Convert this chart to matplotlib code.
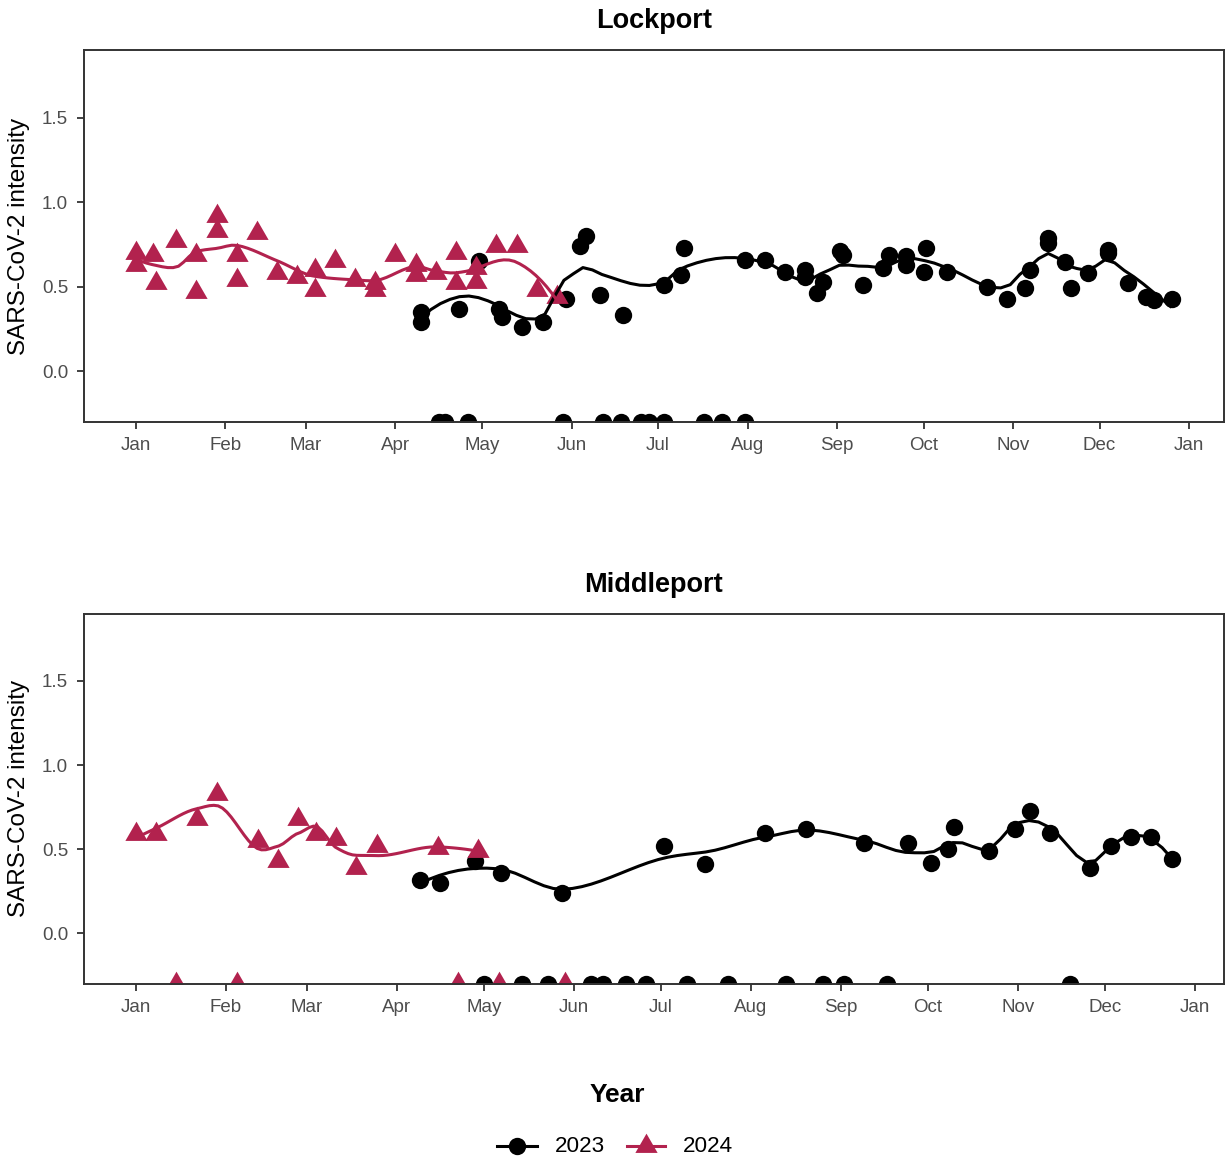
import numpy as np
import datetime as dt
import matplotlib
matplotlib.use("Agg")
import matplotlib.pyplot as plt
from matplotlib.lines import Line2D
from matplotlib.transforms import blended_transform_factory

plt.rcParams['font.family'] = ['Liberation Sans', 'DejaVu Sans']

# ---------------- data ----------------
# values are SARS-CoV-2 intensity; None = non-detect (drawn at the panel floor)
month_ticks = ["01-01", "02-01", "03-01", "04-01", "05-01", "06-01", "07-01",
               "08-01", "09-01", "10-01", "11-01", "12-01", "NEXT-01-01"]
month_labels = ["Jan", "Feb", "Mar", "Apr", "May", "Jun", "Jul", "Aug", "Sep",
                "Oct", "Nov", "Dec", "Jan"]
y_ticks = [0.0, 0.5, 1.0, 1.5]
y_tick_labels = ["0.0", "0.5", "1.0", "1.5"]
y_limits = (-0.2, 1.8)

years = ["2023", "2024"]
year_colors = {"2023": "#000000", "2024": "#B2224E"}

lockport_2023_dates = [
    "04-10", "04-10", "04-16", "04-18", "04-23", "04-26", "04-30", "05-07", "05-08",
    "05-15", "05-22", "05-29", "05-30", "06-04", "06-06", "06-11", "06-12", "06-18",
    "06-19", "06-25", "06-28", "07-03", "07-03", "07-09", "07-10", "07-17", "07-23",
    "07-31", "07-31", "08-07", "08-14", "08-21", "08-21", "08-25", "08-27", "09-02",
    "09-03", "09-10", "09-17", "09-19", "09-25", "09-25", "10-01", "10-02", "10-09",
    "10-23", "10-30", "11-05", "11-07", "11-13", "11-13", "11-19", "11-21", "11-27",
    "12-04", "12-04", "12-11", "12-17", "12-20", "12-26"]
lockport_2023_values = [
    0.35, 0.29, None, None, 0.37, None, 0.65, 0.37, 0.32,
    0.26, 0.29, None, 0.43, 0.74, 0.80, 0.45, None, None,
    0.33, None, None, None, 0.51, 0.57, 0.73, None, None,
    None, 0.66, 0.66, 0.585, 0.60, 0.56, 0.46, 0.53, 0.71,
    0.69, 0.51, 0.61, 0.69, 0.68, 0.63, 0.59, 0.73, 0.59,
    0.50, 0.43, 0.49, 0.60, 0.79, 0.76, 0.645, 0.49, 0.58,
    0.72, 0.70, 0.52, 0.44, 0.42, 0.43]

lockport_2024_dates = [
    "01-01", "01-01", "01-07", "01-08", "01-15", "01-22", "01-22", "01-29", "01-29",
    "02-05", "02-05", "02-12", "02-19", "02-26", "03-04", "03-04", "03-11", "03-18",
    "03-25", "03-25", "04-01", "04-08", "04-08", "04-15", "04-22", "04-22", "04-29",
    "04-29", "05-06", "05-13", "05-20", "05-27"]
lockport_2024_values = [
    0.70, 0.63, 0.69, 0.52, 0.77, 0.69, 0.47, 0.92, 0.83,
    0.69, 0.54, 0.82, 0.58, 0.56, 0.60, 0.48, 0.65, 0.54,
    0.52, 0.48, 0.69, 0.63, 0.57, 0.58, 0.70, 0.52, 0.61,
    0.53, 0.74, 0.74, 0.48, 0.44]

middleport_2023_dates = [
    "04-09", "04-16", "04-28", "05-01", "05-07", "05-14", "05-23", "05-28", "06-07",
    "06-11", "06-19", "06-26", "07-02", "07-10", "07-16", "07-24", "08-06", "08-13",
    "08-20", "08-26", "09-02", "09-09", "09-17", "09-24", "10-02", "10-08", "10-10",
    "10-22", "10-31", "11-05", "11-12", "11-19", "11-26", "12-03", "12-10", "12-17",
    "12-24"]
middleport_2023_values = [
    0.32, 0.30, 0.43, None, 0.36, None, None, 0.24, None,
    None, None, None, 0.52, None, 0.41, None, 0.595, None,
    0.62, None, None, 0.54, None, 0.54, 0.42, 0.50, 0.63,
    0.49, 0.62, 0.73, 0.595, None, 0.39, 0.52, 0.575, 0.575,
    0.44]

middleport_2024_dates = [
    "01-01", "01-08", "01-15", "01-22", "01-29", "02-05", "02-12", "02-19", "02-26",
    "03-04", "03-11", "03-18", "03-25", "04-15", "04-22", "04-29", "05-06", "05-29"]
middleport_2024_values = [
    0.59, 0.59, None, 0.68, 0.83, None, 0.55, 0.43, 0.68,
    0.59, 0.56, 0.39, 0.52, 0.51, None, 0.49, None, None]

sites = ["Lockport", "Middleport"]
site_data = {
    "Lockport": {"2023": (lockport_2023_dates, lockport_2023_values),
                 "2024": (lockport_2024_dates, lockport_2024_values)},
    "Middleport": {"2023": (middleport_2023_dates, middleport_2023_values),
                   "2024": (middleport_2024_dates, middleport_2024_values)},
}
# loess span per series
smooth_span = {("Lockport", "2023"): 0.22, ("Lockport", "2024"): 0.33,
               ("Middleport", "2023"): 0.28, ("Middleport", "2024"): 0.5}


# ---------------- helpers ----------------
REF = dt.date(2023, 1, 1)


def day_of_year(md):
    if md.startswith("NEXT-"):
        m, d = md[5:].split("-")
        return (dt.date(2024, int(m), int(d)) - REF).days
    m, d = md.split("-")
    return (dt.date(2023, int(m), int(d)) - REF).days


def local_fit(x, y, x0, q, span):
    d = np.abs(x - x0)
    rho = np.sort(d)[q - 1] * max(1.0, span) + 1e-9
    w = np.clip(1 - (d / rho) ** 3, 0, None) ** 3
    X = np.column_stack([np.ones(len(x)), x - x0, (x - x0) ** 2])
    sw = np.sqrt(w)
    beta, *_ = np.linalg.lstsq(X * sw[:, None], y * sw, rcond=None)
    return beta[0], beta[1]


def loess(x, y, span, n_out=80, cell=0.2):
    """R-style loess (degree 2) with kd-tree vertices and cubic Hermite interpolation."""
    x = np.asarray(x, float)
    y = np.asarray(y, float)
    n = len(x)
    q = max(int(np.floor(n * span)), 3)
    fc = int(np.floor(n * span * cell))
    xsrt = np.sort(x)
    lo, hi = xsrt[0], xsrt[-1]
    mu = 0.005 * max(hi - lo, 1e-10 * max(abs(lo), abs(hi)) + 1e-30)
    verts = {lo - mu, hi + mu}
    stack = [(0, n - 1, lo - mu, hi + mu)]
    while stack:
        l, u, a, b = stack.pop()
        if u - l + 1 <= fc:
            continue
        m = (l + u + 2) // 2 - 1
        offset = 0
        while l <= m + offset < u:
            if xsrt[m + offset] == xsrt[m + offset + 1]:
                offset = -offset
                if offset >= 0:
                    offset += 1
            else:
                m = m + offset
                break
        xi = xsrt[m]
        if xi == a or xi == b:
            continue
        verts.add(xi)
        stack.append((l, m, a, xi))
        stack.append((m + 1, u, xi, b))
    vx = np.array(sorted(verts))
    fits = np.array([local_fit(x, y, v, q, span) for v in vx])
    xs = np.linspace(lo, hi, n_out)
    out = []
    for x0 in xs:
        i = min(np.searchsorted(vx, x0, side="right") - 1, len(vx) - 2)
        v0, v1 = vx[i], vx[i + 1]
        g0, s0 = fits[i]
        g1, s1 = fits[i + 1]
        h = v1 - v0
        t = (x0 - v0) / h
        val = ((1 - t) ** 2 * (1 + 2 * t) * g0 + t ** 2 * (3 - 2 * t) * g1
               + (t * (1 - t) ** 2 * s0 - t ** 2 * (1 - t) * s1) * h)
        out.append(val)
    return xs, np.array(out)


# marker shapes
tri = [(0, 1), (-0.866, -0.5), (0.866, -0.5)]
markers = {"2023": "o", "2024": tri}
msizes = {"2023": 12.5, "2024": 18.5}

W, H = 1225, 1161
fig = plt.figure(figsize=(W / 100, H / 100), dpi=100)
axes_px = {"Lockport": (84, 50, 1223.5, 422), "Middleport": (84, 613.5, 1223.5, 984)}
title_y = {"Lockport": 21, "Middleport": 585}

tick_color = "#333333"
label_color = "#4D4D4D"

for site in sites:
    l, t, r, b = axes_px[site]
    ax = fig.add_axes([l / W, 1 - b / H, (r - l) / W, (b - t) / H])
    trans_floor = blended_transform_factory(ax.transData, ax.transAxes)
    all_days = []
    curves = []
    for yr in years:
        dates, vals = site_data[site][yr]
        days = np.array([day_of_year(s) for s in dates], float)
        all_days.extend(days)
        fin = np.array([v is not None for v in vals])
        v = np.array([np.nan if vv is None else vv for vv in vals], float)
        col = year_colors[yr]
        ax.plot(days[fin], v[fin], linestyle="none", marker=markers[yr],
                markersize=msizes[yr], color=col, markeredgewidth=0, zorder=2)
        ax.plot(days[~fin], np.zeros((~fin).sum()), linestyle="none",
                marker=markers[yr], markersize=msizes[yr], color=col,
                markeredgewidth=0, transform=trans_floor, zorder=2)
        xs, ys = loess(days[fin], v[fin], smooth_span[(site, yr)])
        curves.append((xs, ys, col))
    for xs, ys, col in curves:
        ax.plot(xs, ys, color=col, lw=2.2, zorder=3, solid_capstyle="butt")

    dmin, dmax = min(all_days), max(all_days)
    span = dmax - dmin
    ax.set_xlim(dmin - 0.05 * span, dmax + 0.05 * span)
    yr_ = y_limits[1] - y_limits[0]
    ax.set_ylim(y_limits[0] - 0.05 * yr_, y_limits[1] + 0.05 * yr_)
    ax.set_xticks([day_of_year(s) for s in month_ticks])
    ax.set_xticklabels(month_labels)
    ax.set_yticks(y_ticks)
    ax.set_yticklabels(y_tick_labels)
    ax.tick_params(axis="both", length=5, width=1.3, color=tick_color,
                   labelcolor=label_color, labelsize=13.5)
    ax.tick_params(axis="x", pad=6)
    ax.tick_params(axis="y", pad=6.5)
    for sp in ax.spines.values():
        sp.set_color(tick_color)
        sp.set_linewidth(1.4)

    fig.text(654 / W, 1 - title_y[site] / H, site, ha="center", va="center",
             fontsize=19.5, fontweight="bold", color="black")
    fig.text(19 / W, 1 - (t + b) / 2 / H, "SARS-CoV-2 intensity", rotation=90,
             ha="center", va="center", fontsize=17.5, color="black")

# legend
fig.text(617 / W, 1 - 1095 / H, "Year", ha="center", va="center",
         fontsize=19, fontweight="bold")
leg_y = 1 - 1146 / H
legend_items = [("2023", 497, 537, 555), ("2024", 627, 665, 683)]
for yr, x0, x1, xt in legend_items:
    fig.add_artist(Line2D([x0 / W, x1 / W], [leg_y, leg_y], color=year_colors[yr],
                          lw=2.2, transform=fig.transFigure))
    fig.add_artist(Line2D([(x0 + x1) / 2 / W], [leg_y], color=year_colors[yr],
                          marker=markers[yr], markersize=msizes[yr], markeredgewidth=0,
                          linestyle="none", transform=fig.transFigure))
    fig.text(xt / W, leg_y, yr, ha="left", va="center", fontsize=16.2, color="black")

fig.savefig("out.png", dpi=100)
